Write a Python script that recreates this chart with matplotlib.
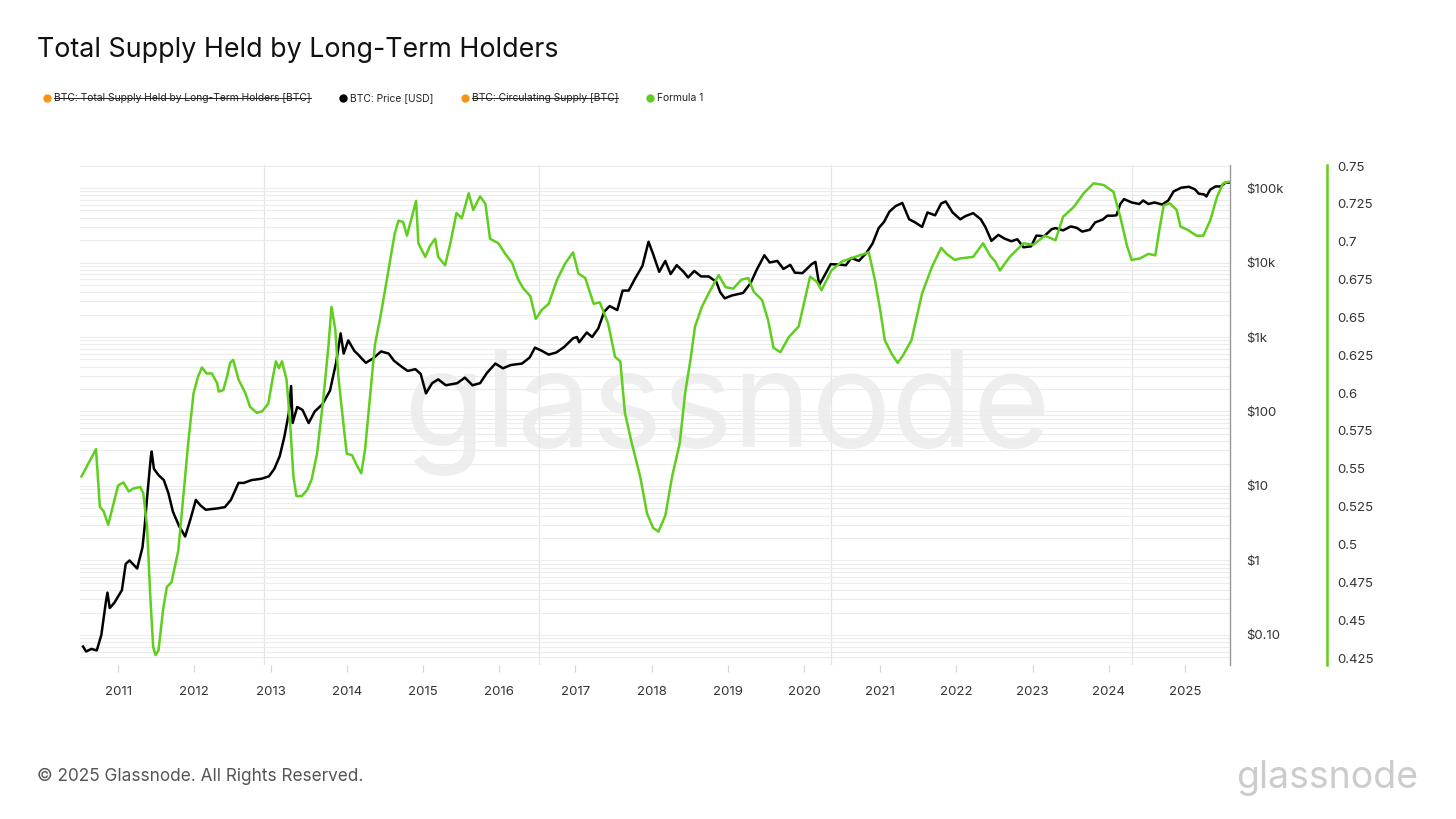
import matplotlib
matplotlib.use("Agg")
import matplotlib.pyplot as plt
from matplotlib.lines import Line2D
from matplotlib.ticker import FixedLocator, FixedFormatter, LogLocator, NullFormatter

plt.rcParams["font.family"] = ["Inter", "DejaVu Sans"]

GREEN = "#5fcf1e"
ORANGE = "#f7931a"

# BTC price [USD] (decimal year, price)
price_t = [
    2010.54, 2010.58, 2010.65, 2010.72, 2010.78, 2010.84, 2010.86, 2010.89, 2010.95,
    2011.05, 2011.10, 2011.15, 2011.25, 2011.32, 2011.35, 2011.38, 2011.43, 2011.44,
    2011.47, 2011.53, 2011.60, 2011.66, 2011.72, 2011.80, 2011.88, 2011.95,
    2012.02, 2012.08, 2012.15, 2012.30, 2012.40, 2012.48, 2012.58, 2012.65, 2012.75,
    2012.88, 2012.98, 2013.05, 2013.12, 2013.18, 2013.24, 2013.27, 2013.29, 2013.35,
    2013.42, 2013.50, 2013.58, 2013.68, 2013.78, 2013.86, 2013.92, 2013.96,
    2014.02, 2014.10, 2014.15, 2014.25, 2014.35, 2014.45, 2014.55, 2014.62, 2014.72,
    2014.80, 2014.90, 2014.97, 2015.04, 2015.12, 2015.20, 2015.30, 2015.45, 2015.55,
    2015.65, 2015.75, 2015.84, 2015.95, 2016.05, 2016.15, 2016.30, 2016.40, 2016.47,
    2016.55, 2016.65, 2016.75, 2016.85, 2016.97, 2017.02, 2017.05, 2017.15, 2017.22,
    2017.30, 2017.38, 2017.45, 2017.55, 2017.62, 2017.70, 2017.78, 2017.88, 2017.96,
    2018.02, 2018.10, 2018.18, 2018.25, 2018.33, 2018.42, 2018.48, 2018.56, 2018.65,
    2018.75, 2018.85, 2018.90, 2018.96, 2019.05, 2019.20, 2019.30, 2019.38, 2019.48,
    2019.55, 2019.65, 2019.73, 2019.82, 2019.88, 2019.98, 2020.10, 2020.15, 2020.20,
    2020.28, 2020.35, 2020.45, 2020.55, 2020.62, 2020.72, 2020.82, 2020.90, 2020.98,
    2021.05, 2021.12, 2021.20, 2021.29, 2021.38, 2021.45, 2021.55, 2021.62, 2021.72,
    2021.80, 2021.86, 2021.95, 2022.05, 2022.12, 2022.22, 2022.32, 2022.38, 2022.46,
    2022.55, 2022.63, 2022.72, 2022.80, 2022.88, 2022.98, 2023.05, 2023.15, 2023.25,
    2023.30, 2023.40, 2023.50, 2023.58, 2023.65, 2023.75, 2023.82, 2023.92, 2023.98,
    2024.05, 2024.10, 2024.15, 2024.20, 2024.30, 2024.40, 2024.45, 2024.52, 2024.60,
    2024.70, 2024.78, 2024.85, 2024.95, 2025.05, 2025.13, 2025.18, 2025.25, 2025.28,
    2025.33, 2025.40, 2025.47, 2025.53, 2025.57,
]
price_usd = [
    0.07, 0.06, 0.065, 0.062, 0.10, 0.28, 0.37, 0.23, 0.27,
    0.40, 0.90, 1.0, 0.78, 1.5, 3.0, 7, 25, 29,
    17, 14, 12, 8, 4.5, 2.9, 2.1, 3.6,
    6.5, 5.5, 4.8, 5.0, 5.2, 6.5, 11, 11, 12,
    12.5, 13.5, 17, 25, 45, 95, 220, 70, 115,
    105, 70, 100, 125, 190, 450, 1120, 600,
    900, 650, 580, 450, 520, 640, 600, 480, 400,
    350, 370, 320, 175, 240, 270, 225, 240, 285,
    225, 240, 330, 440, 380, 420, 440, 530, 720,
    660, 580, 620, 730, 960, 1000, 850, 1150, 1000,
    1300, 2200, 2600, 2300, 4200, 4200, 6000, 9000, 19000,
    13000, 7500, 10500, 7000, 9200, 7500, 6300, 7700, 6500,
    6500, 5500, 4000, 3300, 3600, 3900, 5300, 8000, 12500,
    10000, 10500, 8200, 9300, 7300, 7200, 9500, 10200, 5000,
    7000, 9500, 9400, 9200, 11500, 10500, 13500, 18000, 29000,
    35000, 48000, 57000, 63000, 38000, 35000, 30000, 47000, 43000,
    62000, 66000, 47000, 38000, 42000, 46000, 38000, 30000, 19500,
    23500, 21000, 19300, 20500, 16000, 16500, 23000, 22500, 28000,
    29000, 27000, 30500, 29200, 26000, 27500, 34500, 37700, 42500,
    42500, 43000, 61000, 71000, 64000, 61000, 68000, 61000, 64000,
    60000, 68000, 90000, 101000, 104000, 96000, 84000, 82000, 77000,
    95000, 105000, 105000, 118000, 118000,
]

# Formula 1 = LTH supply / circulating supply (decimal year, ratio)
ratio_t = [
    2010.52, 2010.71, 2010.76, 2010.81, 2010.87, 2011.00, 2011.07, 2011.14, 2011.20,
    2011.29, 2011.33, 2011.38, 2011.42, 2011.46, 2011.49, 2011.53, 2011.59, 2011.64,
    2011.70, 2011.79, 2011.86, 2011.92, 2011.99, 2012.05, 2012.10, 2012.16, 2012.23,
    2012.30, 2012.32, 2012.38, 2012.43, 2012.47, 2012.51, 2012.58, 2012.67, 2012.73,
    2012.82, 2012.89, 2012.97, 2013.04, 2013.07, 2013.11, 2013.15, 2013.21, 2013.26,
    2013.30, 2013.34, 2013.41, 2013.48, 2013.54, 2013.61, 2013.69, 2013.76, 2013.80,
    2013.85, 2013.89, 2013.96, 2014.00, 2014.07, 2014.13, 2014.19, 2014.24, 2014.31,
    2014.37, 2014.44, 2014.48, 2014.57, 2014.63, 2014.68, 2014.74, 2014.79, 2014.85,
    2014.91, 2014.94, 2015.03, 2015.09, 2015.16, 2015.20, 2015.29, 2015.36, 2015.44,
    2015.51, 2015.60, 2015.66, 2015.75, 2015.82, 2015.88, 2015.99, 2016.08, 2016.17,
    2016.25, 2016.32, 2016.41, 2016.48, 2016.56, 2016.65, 2016.76, 2016.87, 2016.97,
    2017.04, 2017.13, 2017.24, 2017.32, 2017.43, 2017.52, 2017.59, 2017.65, 2017.74,
    2017.85, 2017.94, 2018.02, 2018.09, 2018.18, 2018.27, 2018.37, 2018.44, 2018.51,
    2018.57, 2018.66, 2018.75, 2018.88, 2018.97, 2019.07, 2019.18, 2019.27, 2019.34,
    2019.45, 2019.53, 2019.60, 2019.69, 2019.80, 2019.93, 2020.01, 2020.08, 2020.17,
    2020.23, 2020.36, 2020.50, 2020.67, 2020.85, 2020.93, 2021.00, 2021.06, 2021.15,
    2021.23, 2021.30, 2021.41, 2021.55, 2021.68, 2021.80, 2021.87, 2021.98, 2022.05,
    2022.22, 2022.35, 2022.44, 2022.51, 2022.57, 2022.70, 2022.88, 2023.01, 2023.16,
    2023.30, 2023.40, 2023.54, 2023.67, 2023.80, 2023.93, 2024.06, 2024.15, 2024.24,
    2024.30, 2024.41, 2024.52, 2024.61, 2024.67, 2024.72, 2024.80, 2024.89, 2024.94,
    2025.04, 2025.15, 2025.24, 2025.33, 2025.42, 2025.50, 2025.57,
]
ratio = [
    0.545, 0.563, 0.525, 0.522, 0.513, 0.539, 0.541, 0.535, 0.537,
    0.538, 0.534, 0.512, 0.468, 0.4325, 0.427, 0.430, 0.457, 0.472,
    0.475, 0.496, 0.534, 0.567, 0.600, 0.611, 0.617, 0.613, 0.613,
    0.6065, 0.601, 0.602, 0.611, 0.620, 0.622, 0.609, 0.600, 0.591,
    0.587, 0.588, 0.593, 0.613, 0.621, 0.6165, 0.621, 0.609, 0.578,
    0.545, 0.532, 0.532, 0.536, 0.543, 0.560, 0.595, 0.631, 0.657,
    0.642, 0.611, 0.578, 0.560, 0.559, 0.5525, 0.547, 0.5625, 0.600,
    0.632, 0.650, 0.6615, 0.688, 0.7055, 0.714, 0.713, 0.704, 0.7155,
    0.727, 0.699, 0.690, 0.697, 0.702, 0.690, 0.6845, 0.699, 0.719,
    0.7155, 0.732, 0.721, 0.730, 0.725, 0.702, 0.699, 0.692, 0.686,
    0.675, 0.669, 0.664, 0.649, 0.655, 0.659, 0.675, 0.686, 0.693,
    0.679, 0.676, 0.659, 0.660, 0.646, 0.624, 0.621, 0.587, 0.567,
    0.545, 0.5206, 0.511, 0.5085, 0.519, 0.545, 0.567, 0.600, 0.622,
    0.644, 0.657, 0.666, 0.678, 0.670, 0.669, 0.675, 0.676, 0.667,
    0.6615, 0.648, 0.630, 0.627, 0.637, 0.644, 0.6615, 0.677, 0.6735,
    0.668, 0.681, 0.687, 0.690, 0.693, 0.675, 0.655, 0.635, 0.626,
    0.620, 0.625, 0.635, 0.666, 0.6835, 0.696, 0.692, 0.688, 0.689,
    0.690, 0.699, 0.691, 0.687, 0.681, 0.690, 0.699, 0.698, 0.704,
    0.701, 0.7165, 0.723, 0.732, 0.7386, 0.7375, 0.733, 0.7165, 0.697,
    0.688, 0.689, 0.692, 0.691, 0.710, 0.724, 0.7254, 0.721, 0.710,
    0.7077, 0.704, 0.704, 0.714, 0.7297, 0.7386, 0.7396,
]

halvings = [2012.91, 2016.52, 2020.36, 2024.30]
years = list(range(2011, 2026))
price_ticks = [0.1, 1, 10, 100, 1e3, 1e4, 1e5]
price_labels = ["$0.10", "$1", "$10", "$100", "$1k", "$10k", "$100k"]
ratio_ticks = [0.425, 0.45, 0.475, 0.5, 0.525, 0.55, 0.575, 0.6, 0.625,
               0.65, 0.675, 0.7, 0.725, 0.75]

legend_items = [
    ("BTC: Total Supply Held by Long-Term Holders [BTC]", ORANGE, True),
    ("BTC: Price [USD]", "black", False),
    ("BTC: Circulating Supply [BTC]", ORANGE, True),
    ("Formula 1", GREEN, False),
]

W, H = 1456, 819
fig = plt.figure(figsize=(W / 100, H / 100), dpi=100)
fig.patch.set_facecolor("white")

ax = fig.add_axes([80 / W, 1 - 665 / H, 1150 / W, 500 / H])
ax2 = ax.twinx()

# watermark
ax.text(0.563, 0.505, "glassnode", transform=ax.transAxes, fontsize=96,
        color="#eeeeee", ha="center", va="center", zorder=0)

ax.set_yscale("log")
ax.set_ylim(10 ** -1.403, 10 ** 5.309)
ax.set_xlim(2010.5, 2025.59)
ax2.set_ylim(0.4204, 0.7507)

ax.yaxis.set_major_locator(FixedLocator(price_ticks))
ax.yaxis.set_major_formatter(FixedFormatter(price_labels))
ax.yaxis.set_minor_locator(LogLocator(base=10, subs=range(2, 10), numticks=20))
ax.yaxis.set_minor_formatter(NullFormatter())
ax.grid(True, which="both", axis="y", color="#ececec", linewidth=0.8, zorder=0)

for h in halvings:
    ax.axvline(h, color="#e6e6e6", linewidth=0.9, zorder=0)

ax.plot(price_t, price_usd, color="black", linewidth=1.8, zorder=3)
ax2.plot(ratio_t, ratio, color=GREEN, linewidth=1.8, zorder=3)

# axes styling
ax.set_xticks(years)
ax.set_xticklabels([str(y) for y in years])
ax.tick_params(axis="x", length=5, color="#d5d5d5", labelsize=9.5,
               labelcolor="#333333", pad=10)
ax.yaxis.tick_right()
ax.tick_params(axis="y", which="both", length=0, labelsize=9.5,
               labelcolor="#333333", pad=12)
ax2.yaxis.set_major_locator(FixedLocator(ratio_ticks))
ax2.set_yticklabels([f"{v:g}" for v in ratio_ticks])
ax2.tick_params(axis="y", length=0, labelsize=9.5, labelcolor="#333333", pad=7)

for s in ["left", "top", "bottom"]:
    ax.spines[s].set_visible(False)
    ax2.spines[s].set_visible(False)
ax.spines["right"].set_color("#9a9a9a")
ax.spines["right"].set_linewidth(1.0)
ax2.spines["right"].set_position(("outward", 70))
ax2.spines["right"].set_color(GREEN)
ax2.spines["right"].set_linewidth(1.8)

# title and footer
fig.text(37 / W, 1 - 50 / H, "Total Supply Held by Long-Term Holders",
         fontsize=19.3, color="#111111", va="center", ha="left")
fig.text(37 / W, 1 - 776 / H, "\u00a9 2025 Glassnode. All Rights Reserved.",
         fontsize=12.4, color="#555555", va="center", ha="left")
fig.text(1418 / W, 1 - 778 / H, "glassnode", fontsize=27, color="#cccccc",
         va="center", ha="right")

# legend with struck-through hidden series
renderer = fig.canvas.get_renderer()
x = 47 / W
ly = 1 - 98 / H
for label, col, struck in legend_items:
    fig.add_artist(Line2D([x], [ly], marker="o", markersize=5, color=col,
                          linestyle="none", transform=fig.transFigure))
    t = fig.text(x + 7 / W, ly, label, fontsize=7.4, color="#222222",
                 va="center", ha="left")
    bb = t.get_window_extent(renderer).transformed(fig.transFigure.inverted())
    if struck:
        fig.add_artist(Line2D([bb.x0, bb.x1], [ly, ly], color="#222222",
                              linewidth=0.7, transform=fig.transFigure))
    x = bb.x1 + 32 / W

fig.savefig("out.png", dpi=100, facecolor="white")
